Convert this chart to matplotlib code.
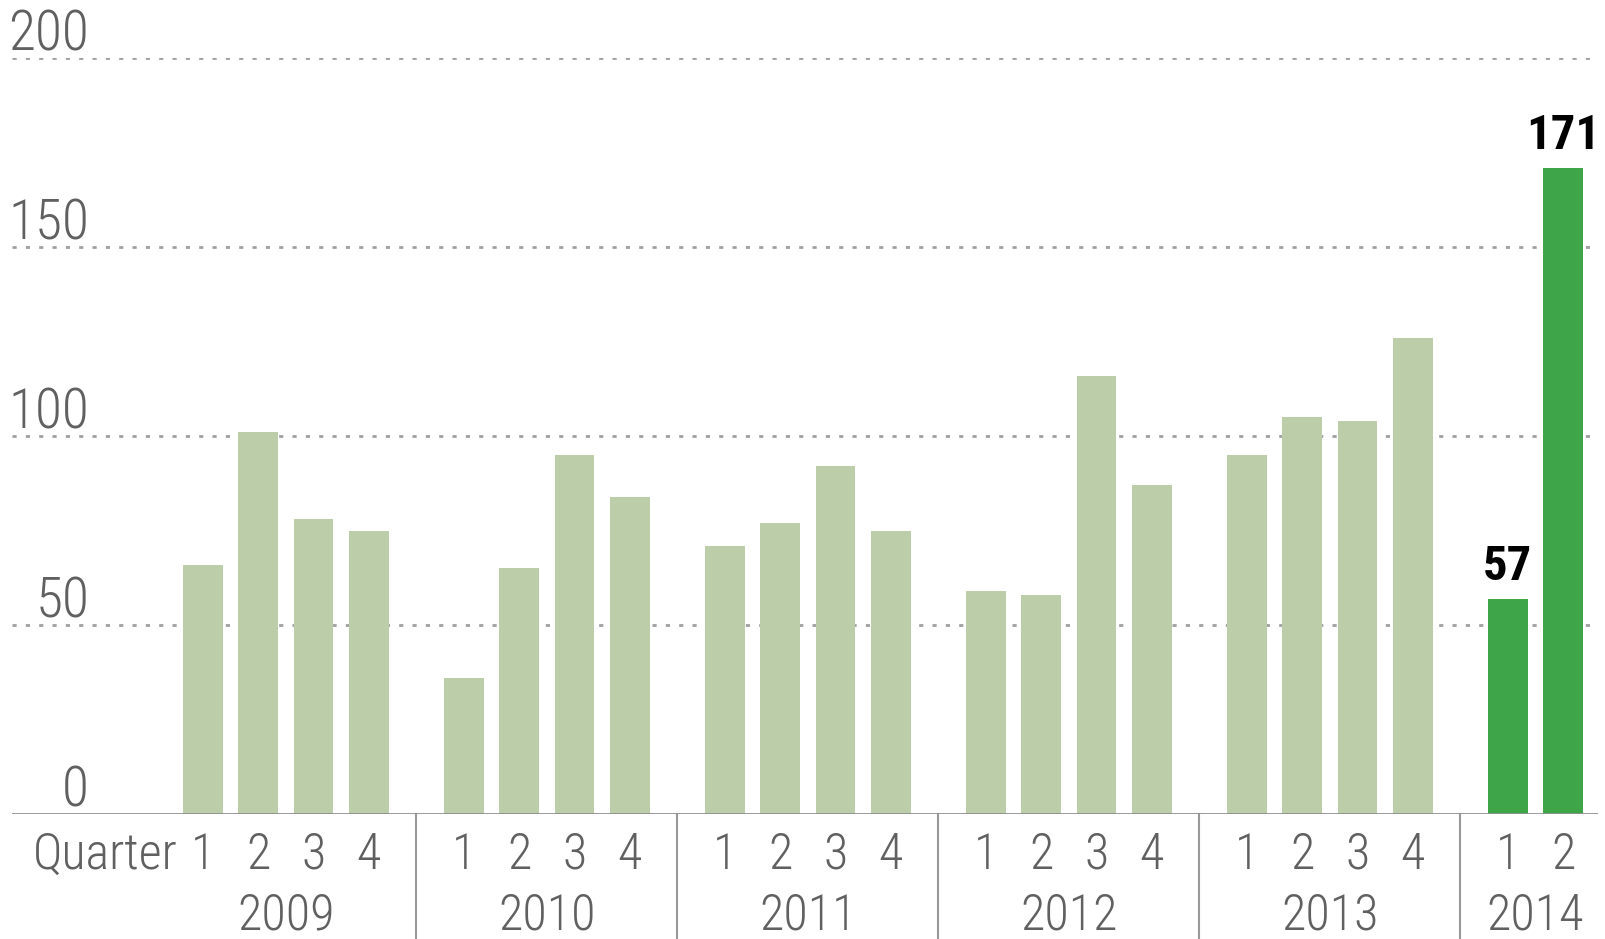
import matplotlib
matplotlib.use('Agg')
import matplotlib.pyplot as plt

# data
years = ['2009', '2010', '2011', '2012', '2013', '2014']
quarters = [['1', '2', '3', '4'], ['1', '2', '3', '4'], ['1', '2', '3', '4'],
            ['1', '2', '3', '4'], ['1', '2', '3', '4'], ['1', '2']]
values = [[66, 101, 78, 75],
          [36, 65, 95, 84],
          [71, 77, 92, 75],
          [59, 58, 116, 87],
          [95, 105, 104, 126],
          [57, 171]]
highlight_year = '2014'
yticks = [0, 50, 100, 150, 200]

light = '#bccea9'
dark = '#3ea548'
grey = '#606060'

# condensed face wanted, take whichever is installed
plt.rcParams['font.family'] = ['Roboto Condensed', 'Open Sans Condensed',
                               'Liberation Sans Narrow', 'DejaVu Sans']
plt.rcParams['font.stretch'] = 'condensed'

fig = plt.figure(figsize=(16.06, 9.39), dpi=100)
ax = fig.add_axes([0.0077, 0.1331, 0.9873, 0.805])

stride = 4.72   # group spacing in bar units
width = 0.72

xs_all = []
for g in range(len(years)):
    col = dark if years[g] == highlight_year else light
    xs = [g * stride + i for i in range(len(values[g]))]
    xs_all.append(xs)
    ax.bar(xs, values[g], width=width, color=col, zorder=2)
    for i in range(len(xs)):
        # quarter numbers under each bar
        ax.text(xs[i], -0.054, quarters[g][i], transform=ax.get_xaxis_transform(),
                ha='center', va='center', fontsize=36, fontweight='light',
                color=grey, clip_on=False)
        if years[g] == highlight_year:
            ax.text(xs[i], values[g][i] + 2.3, str(values[g][i]), ha='center',
                    va='bottom', fontsize=35, fontweight='bold', color='black')
    # year under the group
    ax.text((xs[0] + xs[-1]) / 2, -0.134, years[g], transform=ax.get_xaxis_transform(),
            ha='center', va='center', fontsize=36, fontweight='light',
            color=grey, clip_on=False)
    # separators between groups
    if g > 0:
        sx = (xs_all[g - 1][-1] + xs[0]) / 2
        ax.plot([sx, sx], [0, -0.2], transform=ax.get_xaxis_transform(),
                color='#999999', lw=1.5, clip_on=False)

ax.text(xs_all[0][0] - 0.45, -0.054, 'Quarter', transform=ax.get_xaxis_transform(),
        ha='right', va='center', fontsize=36, fontweight='light',
        color=grey, clip_on=False)

ax.set_xlim(-3.445, 25.23)
ax.set_ylim(0, 200)

# dotted gridlines, solid baseline
for t in yticks[1:]:
    ax.axhline(t, color='#a0a0a0', lw=2, linestyle=(0, (1.5, 3.3)), zorder=1)
ax.axhline(0, color='#909090', lw=2, zorder=3)

for t in yticks:
    ax.text(0.0484, t + 2.1, str(t), transform=ax.get_yaxis_transform(),
            ha='right', va='baseline', fontsize=40, fontweight='light', color=grey)

ax.axis('off')

fig.savefig('out.png', dpi=100)
